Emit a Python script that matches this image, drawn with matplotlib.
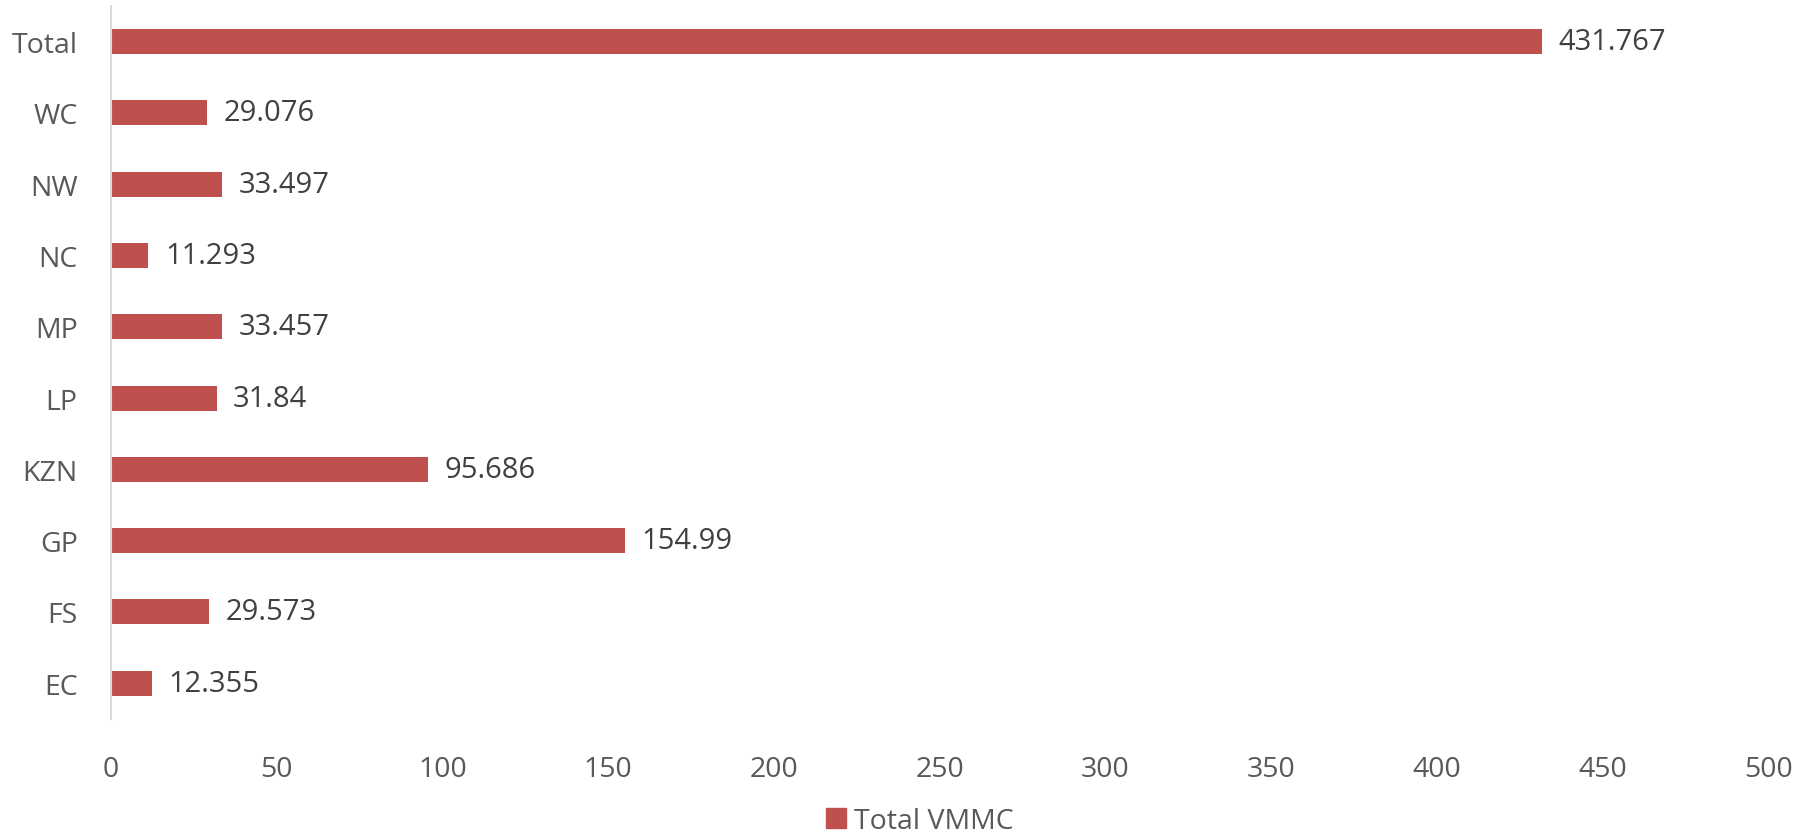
import matplotlib.pyplot as plt
from matplotlib.patches import Patch

regions = ["EC", "FS", "GP", "KZN", "LP", "MP", "NC", "NW", "WC", "Total"]
vmmc = [12.355, 29.573, 154.99, 95.686, 31.84, 33.457, 11.293, 33.497, 29.076, 431.767]
labels = ["12.355", "29.573", "154.99", "95.686", "31.84", "33.457", "11.293", "33.497", "29.076", "431.767"]
xticks = [0, 50, 100, 150, 200, 250, 300, 350, 400, 450, 500]

bar_color = "#c0504d"
plt.rcParams["font.family"] = ["Open Sans", "DejaVu Sans"]

fig = plt.figure(figsize=(18.11, 8.37), dpi=100)
ax = fig.add_axes([0.0613, 0.140, 0.915, 0.8516])

ypos = range(len(regions))
ax.barh(ypos, vmmc, height=0.35, color=bar_color)
for y, v, t in zip(ypos, vmmc, labels):
    ax.text(v + 5, y, t, va="center", ha="left", fontsize=21, color="#404040")

ax.set_xlim(0, 500)
ax.set_ylim(-0.5, len(regions) - 0.5)
ax.set_yticks(list(ypos))
ax.set_yticklabels(regions)
ax.set_xticks(xticks)
ax.tick_params(axis="both", length=0, labelsize=20.5, labelcolor="#595959")
ax.tick_params(axis="x", pad=26)
ax.tick_params(axis="y", pad=24)
for s in ["top", "right", "bottom"]:
    ax.spines[s].set_visible(False)
ax.spines["left"].set_color("#d9d9d9")
ax.spines["left"].set_linewidth(1.5)

fig.legend(handles=[Patch(color=bar_color, label="Total VMMC")],
           loc="center", bbox_to_anchor=(0.508, 0.018), frameon=False,
           fontsize=20.5, handlelength=0.7, handleheight=0.7, handletextpad=0.3,
           labelcolor="#595959")

fig.savefig("out.png", dpi=100)
